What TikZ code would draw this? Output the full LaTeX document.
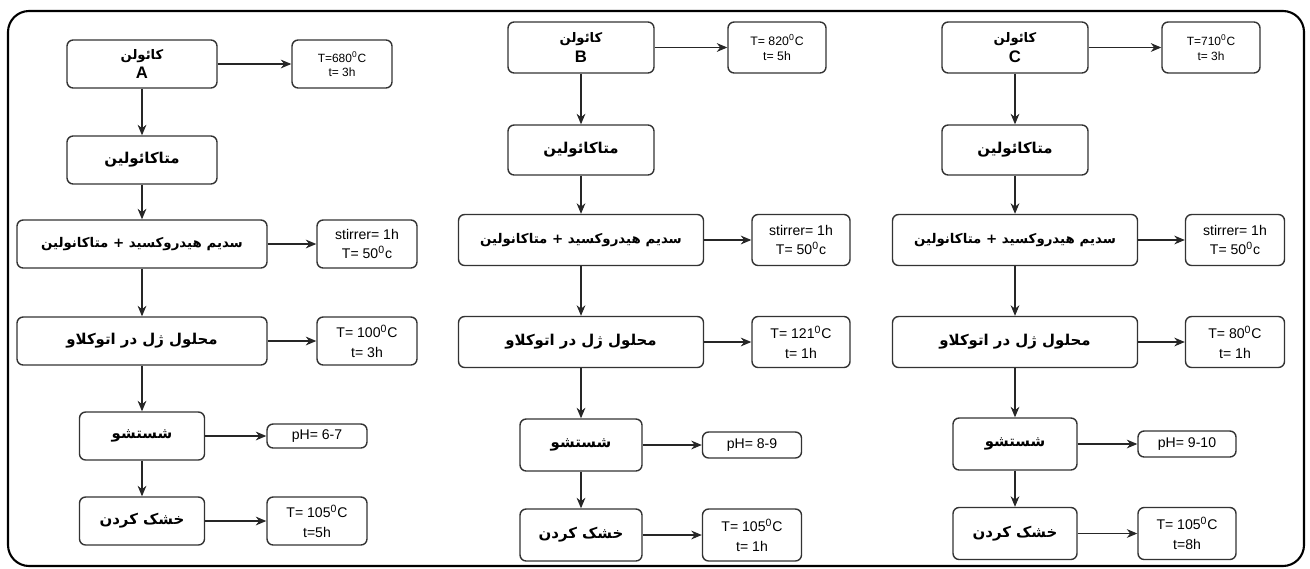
\documentclass[tikz,border=0pt]{standalone}
\usepackage{fontspec}
\setmainfont{Liberation Sans}
\newfontfamily\arfont[Script=Arabic]{DejaVu Sans}
\TeXXeTstate=1
\usetikzlibrary{arrows.meta}
\newlength\pxl
\setlength\pxl{0.02cm}
\newcommand\fa[1]{{\arfont\bfseries\beginR #1\endR}}
\tikzset{
  proc/.style={draw=black!80,line width=0.8pt,rounded corners=3.5pt,align=center,inner sep=0pt,font=\fontsize{8.5}{10}\selectfont},
  mixbox/.style={proc,font=\fontsize{7.6}{9}\selectfont},
  parm/.style={draw=black!80,line width=0.8pt,rounded corners=3.5pt,align=center,inner sep=0pt,font=\fontsize{8}{11.3}\selectfont},
  sz/.style 2 args={minimum width=#1\pxl,minimum height=#2\pxl},
  flow/.style={->,line width=0.6pt,black!85}
}
\begin{document}
\begin{tikzpicture}[x=\pxl,y=-\pxl,>={Stealth[length=6pt,width=5pt]}]
\useasboundingbox (0,0) rectangle (1310,568);
\draw[line width=1.2pt,rounded corners=12pt] (8,11) rectangle (1304,566);
% kaolin A
\node[proc,sz={150}{48}] (kA) at (142,64) {{\fontsize{7.5}{9}\selectfont\fa{کائولن}}\\[1pt]{\fontsize{9.5}{11}\selectfont\textbf{A}}};
\node[parm,sz={100}{48},font=\fontsize{6.8}{8}\selectfont] (tkA) at (342,64) {T=680\textsuperscript{0}C\\t= 3h};
\node[proc,sz={150}{48}] (mA) at (142,160) {\fa{متاکائولین}};
\node[mixbox,sz={250}{48}] (mixA) at (142,244) {\fa{سدیم هیدروکسید + متاکانولین}};
\node[parm,sz={100}{48}] (stA) at (367,244) {stirrer= 1h\\T= 50\textsuperscript{0}c};
\node[proc,sz={250}{48}] (acA) at (142,341) {\fa{محلول ژل در اتوکلاو}};
\node[parm,sz={100}{48}] (tacA) at (367,341) {T= 100\textsuperscript{0}C\\t= 3h};
\node[proc,sz={125}{48}] (wA) at (142,436) {\fa{شستشو}};
\node[parm,sz={100}{24}] (phA) at (317,436) {pH= 6-7};
\node[proc,sz={125}{48}] (dA) at (142,521) {\fa{خشک کردن}};
\node[parm,sz={100}{48}] (tdA) at (317,521) {T= 105\textsuperscript{0}C\\t=5h};
% kaolin B
\node[proc,sz={146}{51}] (kB) at (581,47.5) {{\fontsize{7.5}{9}\selectfont\fa{کائولن}}\\[1pt]{\fontsize{9.5}{11}\selectfont\textbf{B}}};
\node[parm,sz={98}{51},font=\fontsize{7}{8.5}\selectfont] (tkB) at (777,47.5) {T= 820\textsuperscript{0}C\\t= 5h};
\node[proc,sz={146}{50}] (mB) at (581,150) {\fa{متاکائولین}};
\node[mixbox,sz={245}{51}] (mixB) at (581,240) {\fa{سدیم هیدروکسید + متاکانولین}};
\node[parm,sz={98}{51}] (stB) at (801,240) {stirrer= 1h\\T= 50\textsuperscript{0}c};
\node[proc,sz={245}{51}] (acB) at (581,342) {\fa{محلول ژل در اتوکلاو}};
\node[parm,sz={98}{51}] (tacB) at (801,342) {T= 121\textsuperscript{0}C\\t= 1h};
\node[proc,sz={122}{52}] (wB) at (581,445) {\fa{شستشو}};
\node[parm,sz={99}{26}] (phB) at (752,445) {pH= 8-9};
\node[proc,sz={122}{52}] (dB) at (581,535) {\fa{خشک کردن}};
\node[parm,sz={99}{52}] (tdB) at (752,535) {T= 105\textsuperscript{0}C\\t= 1h};
% kaolin C
\node[proc,sz={146}{51}] (kC) at (1015,47.5) {{\fontsize{7.5}{9}\selectfont\fa{کائولن}}\\[1pt]{\fontsize{9.5}{11}\selectfont\textbf{C}}};
\node[parm,sz={98}{51},font=\fontsize{6.8}{8}\selectfont] (tkC) at (1211,47.5) {T=710\textsuperscript{0}C\\t= 3h};
\node[proc,sz={146}{50}] (mC) at (1015,150) {\fa{متاکائولین}};
\node[mixbox,sz={245}{51}] (mixC) at (1015,240) {\fa{سدیم هیدروکسید + متاکانولین}};
\node[parm,sz={99}{51}] (stC) at (1235,240) {stirrer= 1h\\T= 50\textsuperscript{0}c};
\node[proc,sz={245}{51}] (acC) at (1015,342) {\fa{محلول ژل در اتوکلاو}};
\node[parm,sz={99}{51}] (tacC) at (1235,342) {T= 80\textsuperscript{0}C\\t= 1h};
\node[proc,sz={124}{52}] (wC) at (1015,444) {\fa{شستشو}};
\node[parm,sz={98}{26}] (phC) at (1187,444) {pH= 9-10};
\node[proc,sz={124}{52}] (dC) at (1015,533.5) {\fa{خشک کردن}};
\node[parm,sz={98}{52}] (tdC) at (1187,533.5) {T= 105\textsuperscript{0}C\\t=8h};
% arrows
\foreach \c in {A,B,C}{
  \draw[flow] (k\c) -- (m\c);
  \draw[flow] (m\c) -- (mix\c);
  \draw[flow] (mix\c) -- (ac\c);
  \draw[flow] (ac\c) -- (w\c);
  \draw[flow] (w\c) -- (d\c);
  \draw[flow] (k\c) -- (tk\c);
  \draw[flow] (mix\c) -- (st\c);
  \draw[flow] (ac\c) -- (tac\c);
  \draw[flow] (w\c) -- (ph\c);
  \draw[flow] (d\c) -- (td\c);
}
\end{tikzpicture}
\end{document}
